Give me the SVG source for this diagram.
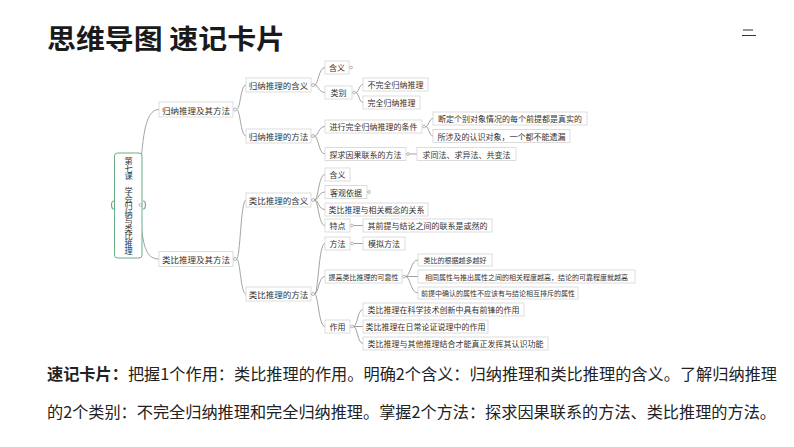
<svg xmlns="http://www.w3.org/2000/svg" width="794" height="447" viewBox="0 0 794 447">
<style>
.bg{fill:#ffffff}
.box{fill:#ffffff;stroke:#d4d4d4;stroke-width:0.8}
.root{fill:#ffffff;stroke:#6aae8a;stroke-width:1}
.t{font-family:"Noto Sans CJK SC","Noto Sans",sans-serif;fill:#333333;text-anchor:middle;dominant-baseline:central}
.rc{font-family:"Noto Sans CJK SC","Noto Sans",sans-serif;fill:#333333;font-size:8.2px;writing-mode:vertical-rl;text-orientation:upright}
.f85{font-size:8.5px}
.f8{font-size:8px}
.f7{font-size:7px}
.dot{fill:#ffffff;stroke:#9a9a9a;stroke-width:0.7}
.ln{fill:none;stroke:#8c8c8c;stroke-width:0.8}
.gr{fill:none;stroke:#6aae8a;stroke-width:1.2}
.title{font-family:"Noto Sans CJK SC","Noto Sans",sans-serif;font-weight:bold;font-size:27px;fill:#1a1a1a}
.body{font-family:"Noto Sans CJK SC","Noto Sans",sans-serif;font-size:16px;fill:#222222}
</style>
<rect class="bg" x="0" y="0" width="794" height="447"/>
<text class="title" x="47" y="49" textLength="238" lengthAdjust="spacingAndGlyphs">思维导图 速记卡片</text>
<g id="menu-icon">
<line x1="743" y1="30" x2="753" y2="30" stroke="#333" stroke-width="1"/>
<line x1="742" y1="35.5" x2="756" y2="35.5" stroke="#333" stroke-width="1"/>
</g>

<g id="connectors">
<path class="ln" d="M141.5,156 C144,126 148,109.5 159,109.5"/>
<path class="ln" d="M141.5,228 C144,250 148,259 159,259"/>
<path class="ln" d="M236.5,109.5 C240.5,109.5 240.5,85 246,85"/>
<path class="ln" d="M236.5,109.5 C240.5,109.5 240.5,136 246,136"/>
<path class="ln" d="M236.5,259 C240.5,259 240.5,200 246,200"/>
<path class="ln" d="M236.5,259 C240.5,259 240.5,294 246,294"/>
<path class="ln" d="M314.5,85 C318.5,85 318.5,67.5 325,67.5"/>
<path class="ln" d="M314.5,85 C318.5,85 318.5,92.5 325,92.5"/>
<path class="ln" d="M314.5,136 C318.5,136 318.5,126.5 325,126.5"/>
<path class="ln" d="M314.5,136 C318.5,136 318.5,154 325,154"/>
<path class="ln" d="M314.5,200 C318.5,200 318.5,174.5 325,174.5"/>
<path class="ln" d="M314.5,200 C318.5,200 318.5,192 325,192"/>
<path class="ln" d="M314.5,200 C318.5,200 318.5,209.5 325,209.5"/>
<path class="ln" d="M314.5,200 C318.5,200 318.5,225.5 325,225.5"/>
<path class="ln" d="M314.5,294 C318.5,294 318.5,243.5 325,243.5"/>
<path class="ln" d="M314.5,294 C318.5,294 318.5,276.5 325,276.5"/>
<path class="ln" d="M314.5,294 C318.5,294 318.5,326.5 325,326.5"/>
<path class="ln" d="M355.5,92.5 C359,92.5 359,84.5 363,84.5"/>
<path class="ln" d="M355.5,92.5 C359,92.5 359,102.5 363,102.5"/>
<path class="ln" d="M425.5,126.5 C429,126.5 429,118.5 433,118.5"/>
<path class="ln" d="M425.5,126.5 C429,126.5 429,136 433,136"/>
<path class="ln" d="M409.5,154 H417"/>
<path class="ln" d="M353.5,225.5 H363"/>
<path class="ln" d="M353.5,243.5 H363"/>
<path class="ln" d="M405.5,276.5 C410.5,276.5 410.5,260 418,260"/>
<path class="ln" d="M405.5,276.5 H418"/>
<path class="ln" d="M405.5,276.5 C410.5,276.5 410.5,293 418,293"/>
<path class="ln" d="M353.5,326.5 C357.5,326.5 357.5,309.5 363,309.5"/>
<path class="ln" d="M353.5,326.5 H363"/>
<path class="ln" d="M353.5,326.5 C357.5,326.5 357.5,343.5 363,343.5"/>
</g>

<g id="root">
<rect class="root" x="114.5" y="153" width="27.5" height="105" rx="3"/>
<text class="rc" x="128.5" y="157" textLength="98" lengthAdjust="spacing">第七课 学会归纳与类比推理</text>
<path class="gr" d="M114,201 Q111.5,201 111.5,205 Q111.5,209 114,209"/>
<circle class="dot" cx="140.5" cy="205" r="1.4"/>
<path class="gr" d="M143,201 Q145.5,201 145.5,205 Q145.5,209 143,209"/>
</g>

<g id="n-gn-ff"><rect class="box" x="159" y="102" width="74" height="15"/><text class="t f85" x="196" y="109.5">归纳推理及其方法</text><circle class="dot" cx="235" cy="109.5" r="1.5"/></g>
<g id="n-lb-ff"><rect class="box" x="159" y="251.5" width="74" height="15"/><text class="t f85" x="196" y="259">类比推理及其方法</text><circle class="dot" cx="235" cy="259" r="1.5"/></g>

<g id="n-gn-hy"><rect class="box" x="246" y="78" width="65" height="14"/><text class="t f85" x="278.5" y="85">归纳推理的含义</text><circle class="dot" cx="313" cy="85" r="1.5"/></g>
<g id="n-gn-fa"><rect class="box" x="246" y="129" width="65" height="14"/><text class="t f85" x="278.5" y="136">归纳推理的方法</text><circle class="dot" cx="313" cy="136" r="1.5"/></g>
<g id="n-lb-hy"><rect class="box" x="246" y="193" width="65" height="14"/><text class="t f85" x="278.5" y="200">类比推理的含义</text><circle class="dot" cx="313" cy="200" r="1.5"/></g>
<g id="n-lb-fa"><rect class="box" x="246" y="287" width="65" height="14"/><text class="t f85" x="278.5" y="294">类比推理的方法</text><circle class="dot" cx="313" cy="294" r="1.5"/></g>

<g id="n-hy1"><rect class="box" x="325" y="61" width="24" height="13"/><text class="t f8" x="337" y="67.5">含义</text><circle class="dot" cx="351" cy="67.5" r="1.4"/></g>
<g id="n-lbie"><rect class="box" x="325" y="86" width="27" height="13"/><text class="t f8" x="338.5" y="92.5">类别</text><circle class="dot" cx="354" cy="92.5" r="1.4"/></g>
<g id="n-bwq"><rect class="box" x="363" y="78" width="65" height="13"/><text class="t f8" x="395.5" y="84.5">不完全归纳推理</text></g>
<g id="n-wq"><rect class="box" x="363" y="96" width="57" height="13"/><text class="t f8" x="391.5" y="102.5">完全归纳推理</text></g>

<g id="n-tj"><rect class="box" x="325" y="120" width="97" height="13"/><text class="t f8" x="373.5" y="126.5">进行完全归纳推理的条件</text><circle class="dot" cx="424" cy="126.5" r="1.4"/></g>
<g id="n-dd"><rect class="box" x="433" y="112" width="154" height="13"/><text class="t f8" x="510" y="118.5">断定个别对象情况的每个前提都是真实的</text></g>
<g id="n-ssj"><rect class="box" x="433" y="129.5" width="137" height="13"/><text class="t f8" x="501.5" y="136">所涉及的认识对象，一个都不能遗漏</text></g>
<g id="n-tq"><rect class="box" x="325" y="147.5" width="81" height="13"/><text class="t f8" x="365.5" y="154">探求因果联系的方法</text><circle class="dot" cx="408" cy="154" r="1.4"/></g>
<g id="n-qtf"><rect class="box" x="417" y="147.5" width="99" height="13"/><text class="t f8" x="466.5" y="154">求同法、求异法、共变法</text></g>

<g id="n-hy2"><rect class="box" x="325" y="168" width="25" height="13"/><text class="t f8" x="337.5" y="174.5">含义</text></g>
<g id="n-kg"><rect class="box" x="325" y="185.5" width="42" height="13"/><text class="t f8" x="346" y="192">客观依据</text><circle class="dot" cx="369" cy="192" r="1.4"/></g>
<g id="n-gx"><rect class="box" x="325" y="203" width="103" height="13"/><text class="t f8" x="376.5" y="209.5">类比推理与相关概念的关系</text></g>
<g id="n-td"><rect class="box" x="325" y="219" width="25" height="13"/><text class="t f8" x="337.5" y="225.5">特点</text><circle class="dot" cx="352" cy="225.5" r="1.4"/></g>
<g id="n-qqt"><rect class="box" x="363" y="219" width="129" height="13"/><text class="t f8" x="427.5" y="225.5">其前提与结论之间的联系是或然的</text></g>

<g id="n-ff"><rect class="box" x="325" y="237" width="25" height="13"/><text class="t f8" x="337.5" y="243.5">方法</text><circle class="dot" cx="352" cy="243.5" r="1.4"/></g>
<g id="n-mn"><rect class="box" x="363" y="237" width="42" height="13"/><text class="t f8" x="384" y="243.5">模拟方法</text></g>
<g id="n-tg"><rect class="box" x="325" y="270" width="77" height="13"/><text class="t f7" x="363.5" y="276.5">提高类比推理的可靠性</text><circle class="dot" cx="404" cy="276.5" r="1.4"/></g>
<g id="n-gj"><rect class="box" x="418" y="254" width="74" height="12"/><text class="t f7" x="455" y="260">类比的根据越多越好</text></g>
<g id="n-xt"><rect class="box" x="418" y="270" width="217" height="13"/><text class="t f7" x="526.5" y="276.5">相同属性与推出属性之间的相关程度越高，结论的可靠程度就越高</text></g>
<g id="n-qtz"><rect class="box" x="418" y="287" width="160" height="12"/><text class="t f7" x="498" y="293">前提中确认的属性不应该有与结论相互排斥的属性</text></g>

<g id="n-zy"><rect class="box" x="325" y="320" width="25" height="13"/><text class="t f8" x="337.5" y="326.5">作用</text><circle class="dot" cx="352" cy="326.5" r="1.4"/></g>
<g id="n-kx"><rect class="box" x="363" y="303" width="161" height="13"/><text class="t f8" x="443.5" y="309.5">类比推理在科学技术创新中具有前锋的作用</text></g>
<g id="n-rc"><rect class="box" x="363" y="320" width="125" height="13"/><text class="t f8" x="425.5" y="326.5">类比推理在日常论证说理中的作用</text></g>
<g id="n-qt"><rect class="box" x="363" y="337" width="185" height="13"/><text class="t f8" x="455.5" y="343.5">类比推理与其他推理结合才能真正发挥其认识功能</text></g>

<text class="body" x="47" y="380" textLength="730" lengthAdjust="spacingAndGlyphs"><tspan font-weight="bold">速记卡片：</tspan>把握1个作用：类比推理的作用。明确2个含义：归纳推理和类比推理的含义。了解归纳推理</text>
<text class="body" x="47" y="418" textLength="729" lengthAdjust="spacingAndGlyphs">的2个类别：不完全归纳推理和完全归纳推理。掌握2个方法：探求因果联系的方法、类比推理的方法。</text>
</svg>
